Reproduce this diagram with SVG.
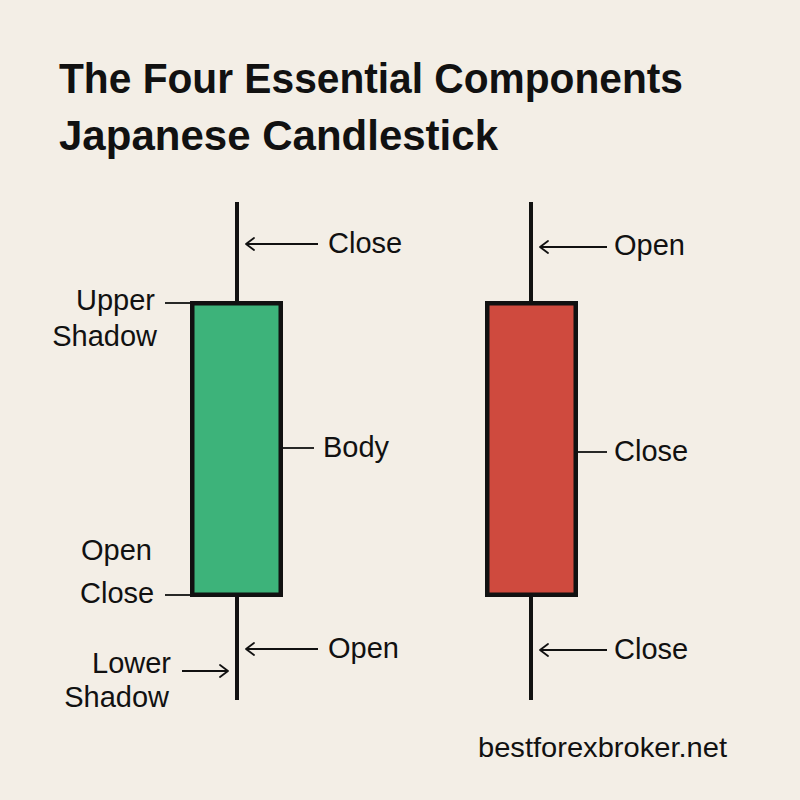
<svg xmlns="http://www.w3.org/2000/svg" width="800" height="800" viewBox="0 0 800 800">
<defs>
<marker id="arr" viewBox="0 0 12 14" refX="11" refY="7" markerWidth="12" markerHeight="14" markerUnits="userSpaceOnUse" orient="auto">
<path d="M3,1 L11,7 L3,13" fill="none" stroke="#111" stroke-width="1.8" stroke-linecap="round" stroke-linejoin="round"/>
</marker>
<style>
.t{font-family:"Liberation Sans",Arial,sans-serif;fill:#111}
.title{font-size:43px;font-weight:bold}
.lbl{font-size:29px}
.wick{stroke:#111;stroke-width:4}
.lead{stroke:#111;stroke-width:1.8;fill:none}
.body{stroke:#111;stroke-width:4.5}
</style>
</defs>
<rect width="800" height="800" fill="#f3eee6"/>
<g id="title">
<text class="t title" x="59" y="93" textLength="624" lengthAdjust="spacingAndGlyphs">The Four Essential Components</text>
<text class="t title" x="59" y="150" textLength="439" lengthAdjust="spacingAndGlyphs">Japanese Candlestick</text>
</g>
<g id="green-candle">
<line class="wick" x1="237" y1="202" x2="237" y2="700"/>
<rect class="body" x="192.25" y="303.25" width="88.5" height="291.5" fill="#3db37a"/>
</g>
<g id="red-candle">
<line class="wick" x1="531" y1="202" x2="531" y2="700"/>
<rect class="body" x="487.25" y="303.25" width="88.5" height="291.5" fill="#cf4a3e"/>
</g>
<g id="connectors">
<line class="lead" x1="318" y1="244" x2="246" y2="244" marker-end="url(#arr)"/>
<line class="lead" x1="165" y1="303" x2="190" y2="303"/>
<line class="lead" x1="283" y1="448" x2="314" y2="448"/>
<line class="lead" x1="165" y1="595" x2="190" y2="595"/>
<line class="lead" x1="318" y1="649" x2="246" y2="649" marker-end="url(#arr)"/>
<line class="lead" x1="182" y1="671" x2="228" y2="671" marker-end="url(#arr)"/>
<line class="lead" x1="607" y1="247" x2="540" y2="247" marker-end="url(#arr)"/>
<line class="lead" x1="578" y1="452" x2="607" y2="452"/>
<line class="lead" x1="607" y1="650" x2="540" y2="650" marker-end="url(#arr)"/>
</g>
<g id="labels">
<text class="t lbl" x="328" y="253">Close</text>
<text class="t lbl" x="155" y="310" text-anchor="end">Upper</text>
<text class="t lbl" x="157" y="346" text-anchor="end">Shadow</text>
<text class="t lbl" x="323" y="457">Body</text>
<text class="t lbl" x="81" y="560">Open</text>
<text class="t lbl" x="80" y="603">Close</text>
<text class="t lbl" x="328" y="658">Open</text>
<text class="t lbl" x="171" y="673" text-anchor="end">Lower</text>
<text class="t lbl" x="169" y="707" text-anchor="end">Shadow</text>
<text class="t lbl" x="614" y="255">Open</text>
<text class="t lbl" x="614" y="461">Close</text>
<text class="t lbl" x="614" y="659">Close</text>
</g>
<g id="footer">
<text class="t" x="478" y="757" font-size="28" textLength="249" lengthAdjust="spacingAndGlyphs">bestforexbroker.net</text>
</g>
</svg>
